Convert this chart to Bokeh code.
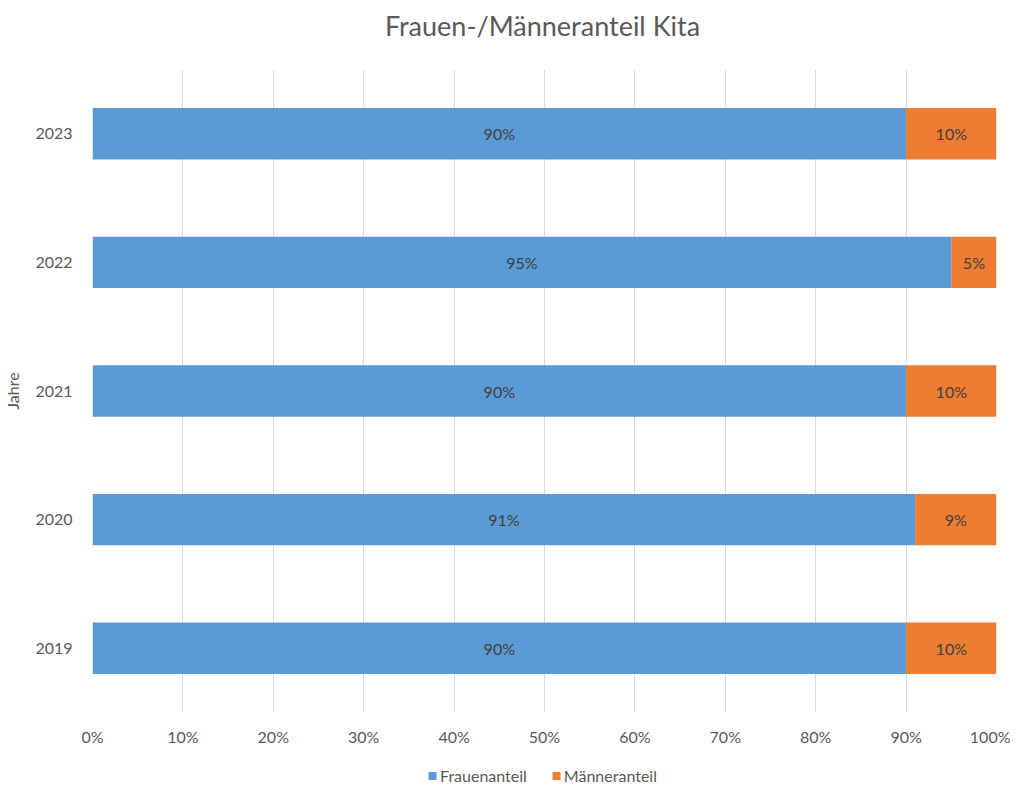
from bokeh.plotting import figure
from bokeh.layouts import column
from bokeh.models import (ColumnDataSource, NumeralTickFormatter, FixedTicker, Range1d,
                          Legend, LegendItem, Label)
from bokeh.core.properties import value
from bokeh.embed import file_html
from bokeh.resources import INLINE

years = ["2019", "2020", "2021", "2022", "2023"]
frauen = [90, 91, 90, 95, 90]
maenner = [10, 9, 10, 5, 10]
x_ticks = [0, 10, 20, 30, 40, 50, 60, 70, 80, 90, 100]
title_text = "Frauen-/Männeranteil Kita"
series_names = ["Frauenanteil", "Männeranteil"]

FONT = "Lato"
TXT = "#595959"
BLUE = "#5B9BD5"
ORANGE = "#ED7D31"
W = 1006


def blank(fig):
    fig.grid.grid_line_color = None
    fig.outline_line_color = None
    fig.title = None


# ---- title strip ----
pt = figure(width=W, height=50, x_range=Range1d(0, 1), y_range=Range1d(0, 1),
            x_axis_location=None, y_axis_location=None,
            output_backend="svg", toolbar_location=None, min_border=0)
blank(pt)
pt.add_layout(Label(x=0.5, y=0.5, text=title_text, text_align="center",
                    text_baseline="middle", text_font_size="27px", text_color=TXT,
                    text_font=FONT))

# ---- main chart ----
f_frac = [v / 100 for v in frauen]
m_frac = [v / 100 for v in maenner]
src = ColumnDataSource(dict(
    year=years, f=f_frac, m=m_frac,
    f_mid=[a / 2 for a in f_frac],
    m_mid=[a + b / 2 for a, b in zip(f_frac, m_frac)],
    f_lab=[f"{v}%" for v in frauen],
    m_lab=[f"{v}%" for v in maenner],
))

p = figure(frame_width=904, frame_height=643, y_range=years, x_range=Range1d(0, 1),
           output_backend="svg", toolbar_location=None,
           min_border_left=88, min_border_right=14, min_border_top=19, min_border_bottom=50)
p.title = None
p.outline_line_color = None

p.hbar_stack(["f", "m"], y="year", height=0.40, color=[BLUE, ORANGE],
             line_color=None, source=src)

p.text(x="f_mid", y="year", text="f_lab", source=src, text_align="center",
       text_baseline="middle", text_font=value(FONT), text_font_size="16px",
       text_color="#404040")
p.text(x="m_mid", y="year", text="m_lab", source=src, text_align="center",
       text_baseline="middle", text_font=value(FONT), text_font_size="16px",
       text_color="#404040")

p.xaxis.ticker = FixedTicker(ticks=[t / 100 for t in x_ticks])
p.xaxis.formatter = NumeralTickFormatter(format="0%")
for ax in (p.xaxis, p.yaxis):
    ax.axis_line_color = None
    ax.major_tick_line_color = None
    ax.minor_tick_line_color = None
    ax.major_label_text_font = FONT
    ax.major_label_text_font_size = "16px"
    ax.major_label_text_color = TXT
p.xaxis.major_label_standoff = 8
p.yaxis.major_label_standoff = 14
p.yaxis.axis_label = "Jahre"
p.yaxis.axis_label_text_font = FONT
p.yaxis.axis_label_text_font_size = "16px"
p.yaxis.axis_label_text_font_style = "normal"
p.yaxis.axis_label_text_color = TXT
p.yaxis.axis_label_standoff = 10

p.xgrid.grid_line_color = "#D9D9D9"
p.ygrid.grid_line_color = None

# ---- legend strip ----
pl = figure(width=W, height=26, x_range=Range1d(0, 1), y_range=Range1d(0, 1),
            x_axis_location=None, y_axis_location=None,
            output_backend="svg", toolbar_location=None, min_border=0)
blank(pl)
# zero-width proxy bars outside the visible range, only used as legend swatches
proxy = ColumnDataSource(dict(y=[-5], left=[0], right=[0]))
rf = pl.hbar(y="y", left="left", right="right", height=0.5, color=BLUE,
             line_color=None, source=proxy)
rm = pl.hbar(y="y", left="left", right="right", height=0.5, color=ORANGE,
             line_color=None, source=proxy)
legend = Legend(items=[LegendItem(label=series_names[0], renderers=[rf]),
                       LegendItem(label=series_names[1], renderers=[rm])],
                orientation="horizontal", location="center",
                label_text_font=FONT, label_text_font_size="16px", label_text_color=TXT,
                glyph_height=10, glyph_width=10, label_standoff=3, spacing=24,
                padding=2, margin=0, border_line_color=None, background_fill_alpha=0)
pl.add_layout(legend, "center")

layout = column(pt, p, pl, spacing=0)
open("out.html", "w").write(file_html(layout, INLINE))
